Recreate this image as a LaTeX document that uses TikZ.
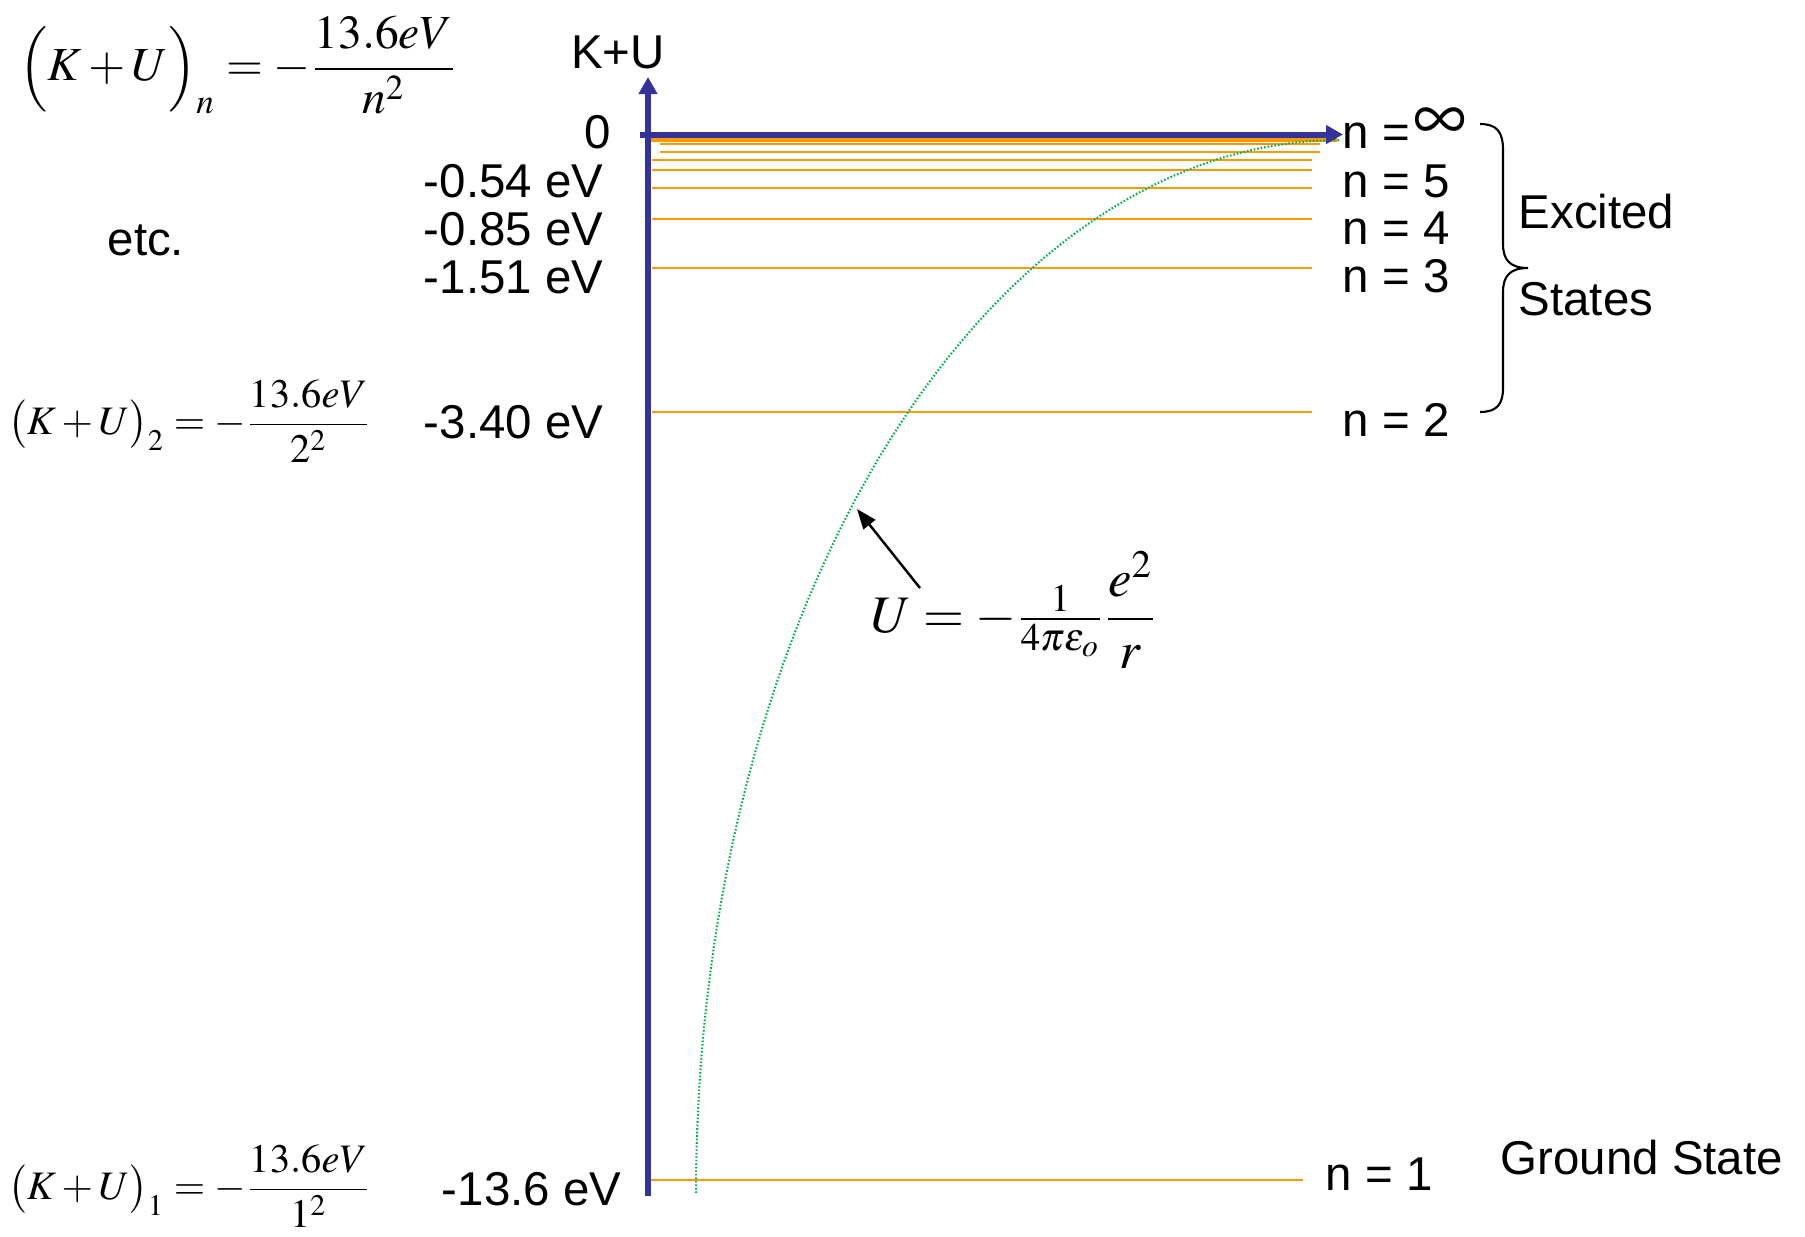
\documentclass[tikz,border=0pt]{standalone}
\usepackage{mathptmx}
\usepackage[no-math]{fontspec}
\setmainfont{Liberation Sans}
\usetikzlibrary{arrows.meta}

\definecolor{axisblue}{RGB}{51,51,153}
\definecolor{levelorange}{RGB}{255,153,0}
\definecolor{curvegreen}{RGB}{0,176,80}

\tikzset{
  axisline/.style={draw=axisblue, line width=1.7pt, -{Triangle[length=1.7mm,width=1.8mm]}},
  level/.style={draw=levelorange, line width=0.6pt},
  lbl/.style={inner sep=0pt, font=\fontsize{13.5}{16}\selectfont},
  formula/.style={inner sep=0pt},
}

\begin{document}
\begin{tikzpicture}[x=0.1mm, y=-0.1mm]
\useasboundingbox (0,0) rectangle (1805,1236);
% 能级线
\foreach \yy/\xa/\xb in {1180/648/1303, 412/652/1312, 268/652/1312, 219/652/1312,
    188/652/1312, 170/652/1312, 160/652/1312, 152/660/1320, 144/660/1320}
  \draw[level] (\xa,\yy) -- (\xb,\yy);
\draw[level, line width=1.1pt] (646,140) -- (1337,140);
% 势能曲线
\draw[curvegreen, line width=0.6pt, dash pattern=on 0.45pt off 0.55pt]
  plot[domain=180:270, samples=80] ({1340+644*cos(\x)}, {1193+1053*sin(\x)});
% 坐标轴
\coordinate (yBot) at (648,1196);
\coordinate (yTop) at (648,77);
\coordinate (xBeg) at (640,134.5);
\coordinate (xEnd) at (1343,134.5);
\draw[axisline] (yBot) -- (yTop);
\draw[axisline] (xBeg) -- (xEnd);
\node[lbl, anchor=base] (KU) at (618,68) {K+U};
% 能量值
\node[lbl, anchor=base east] (E0) at (612,148) {0};
\node[lbl, anchor=base east] (E5) at (604,197) {-0.54 eV};
\node[lbl, anchor=base east] (E4) at (604,245) {-0.85 eV};
\node[lbl, anchor=base east] (E3) at (604,293) {-1.51 eV};
\node[lbl, anchor=base east] (E2) at (604,438) {-3.40 eV};
\node[lbl, anchor=base east] (E1) at (622,1205) {-13.6 eV};
% 量子数
\node[lbl, anchor=base west] (nInf) at (1342,148) {n =};
\node[inner sep=0pt] (inf) at (1440,124) {\resizebox{5.3mm}{3.2mm}{$\infty$}};
\node[lbl, anchor=base west] (n5) at (1342,197) {n = 5};
\node[lbl, anchor=base west] (n4) at (1342,244) {n = 4};
\node[lbl, anchor=base west] (n3) at (1342,292) {n = 3};
\node[lbl, anchor=base west] (n2) at (1342,436) {n = 2};
\node[lbl, anchor=base west] (n1) at (1325,1190) {n = 1};
% 激发态括号
\draw[line width=0.6pt] (1480,124) .. controls (1497,124) and (1503,132) .. (1503,150)
  -- (1503,244) .. controls (1503,260) and (1510,268) .. (1528,268)
  .. controls (1510,268) and (1503,276) .. (1503,292)
  -- (1503,388) .. controls (1503,404) and (1497,412) .. (1480,412);
\node[lbl, anchor=base west] (exc) at (1518,228) {Excited};
\node[lbl, anchor=base west] (sts) at (1518,315) {States};
\node[lbl, anchor=base west] (gnd) at (1500,1174) {Ground State};
\node[lbl, anchor=base west] (etc) at (107,255) {etc.};
% 公式
\node[formula, font=\fontsize{13.5}{16}\selectfont] (f1) at (238,65)
  {$\displaystyle\Bigl(K+U\Bigr)_n=-\frac{13.6eV}{n^2}$};
\node[formula, font=\fontsize{11.5}{14}\selectfont] (f2) at (190,421)
  {$\displaystyle\bigl(K+U\bigr)_2=-\frac{13.6eV}{2^2}$};
\node[formula, font=\fontsize{11.5}{14}\selectfont] (f3) at (190,1186)
  {$\displaystyle\bigl(K+U\bigr)_1=-\frac{13.6eV}{1^2}$};
\node[formula, font=\fontsize{15}{18}\selectfont] (Ueq) at (1014,610)
  {$\displaystyle U=-{\textstyle\frac{1}{4\pi\epsilon_o}}\frac{e^2}{r}$};
% 指向曲线的箭头
\coordinate (Utail) at (920,588);
\coordinate (Uhead) at (857,509);
\draw[line width=0.7pt, -{Triangle[length=2mm,width=1.5mm]}] (Utail) -- (Uhead);
\end{tikzpicture}
\end{document}
